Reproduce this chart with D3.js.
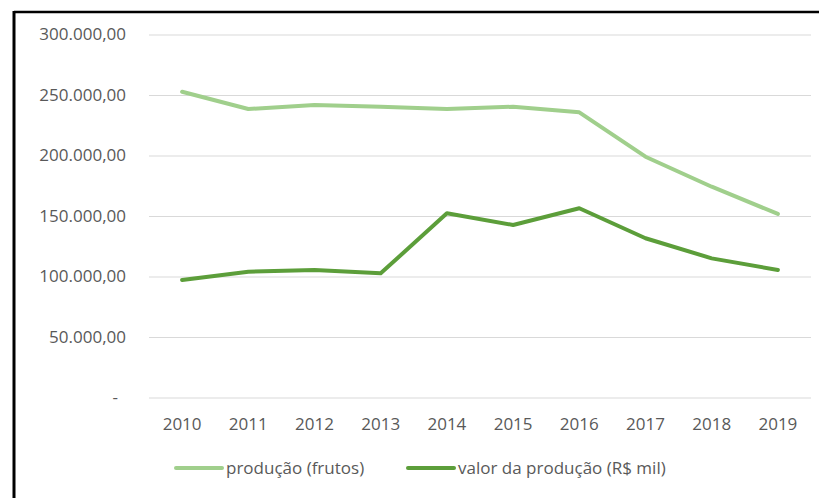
<!DOCTYPE html>
<html>
<head>
<meta charset="utf-8">
<script src="https://cdn.jsdelivr.net/npm/d3@7"></script>
<style>
 body{margin:0;background:#fff;}
 text{font-family:"Open Sans","DejaVu Sans",sans-serif;}
</style>
</head>
<body>
<div id="chart"></div>
<script>
var years = ['2010','2011','2012','2013','2014','2015','2016','2017','2018','2019'];
var producao = [252700, 238400, 241700, 240300, 238400, 240300, 235700, 199000, 174200, 151700];
var valor = [97100, 104000, 105400, 102600, 152200, 142600, 156400, 131600, 115000, 105400];
var yTicks = [0, 50000, 100000, 150000, 200000, 250000, 300000];
var seriesNames = ['produção (frutos)', 'valor da produção (R$ mil)'];
var colors = ['#a0cf8c', '#5c9e3a'];

var width = 819, height = 498;
var plotLeft = 149, plotRight = 811, plotTop = 34.5, plotBottom = 397.5;

var svg = d3.select('#chart').append('svg')
  .attr('width', width).attr('height', height);

// frame (only left and top edges visible)
svg.append('line').attr('x1', 14).attr('y1', 12).attr('x2', 819).attr('y2', 12)
  .attr('stroke', '#000').attr('stroke-width', 2.5);
svg.append('line').attr('x1', 14).attr('y1', 11).attr('x2', 14).attr('y2', 498)
  .attr('stroke', '#000').attr('stroke-width', 3);

var x = d3.scaleBand().domain(years).range([plotLeft, plotRight]);
var y = d3.scaleLinear().domain([0, 300000]).range([plotBottom, plotTop]);

function fmt(v){
  if(v === 0) return '-';
  return d3.format(',.2f')(v).replace(/,/g, 'X').replace('.', ',').replace(/X/g, '.');
}

var yAxis = svg.append('g').attr('transform', 'translate(' + plotLeft + ',0)')
  .call(d3.axisLeft(y).tickValues(yTicks).tickSize(-(plotRight - plotLeft)).tickPadding(22).tickFormat(fmt));
yAxis.select('.domain').remove();
yAxis.selectAll('line').attr('stroke', '#d9d9d9').attr('stroke-width', 1);
yAxis.selectAll('text').attr('fill', '#595959').style('font-size', '17px')
  .attr('x', -23);
yAxis.selectAll('.tick').filter(function(d){ return d === 0; }).select('text').attr('x', -31);

var xAxis = svg.append('g').attr('transform', 'translate(0,' + plotBottom + ')')
  .call(d3.axisBottom(x).tickSize(0).tickPadding(20));
xAxis.select('.domain').remove();
xAxis.selectAll('text').attr('fill', '#595959').style('font-size', '17px');

var line = d3.line()
  .x(function(d, i){ return x(years[i]) + x.bandwidth() / 2; })
  .y(function(d){ return y(d); });

[producao, valor].forEach(function(s, i){
  svg.append('path').datum(s)
    .attr('d', line)
    .attr('fill', 'none')
    .attr('stroke', colors[i])
    .attr('stroke-width', 4)
    .attr('stroke-linejoin', 'round')
    .attr('stroke-linecap', 'round');
});

// legend
var legendX = [176, 408];
seriesNames.forEach(function(n, i){
  var g = svg.append('g').attr('transform', 'translate(' + legendX[i] + ',468)');
  g.append('line').attr('x1', 0).attr('x2', 46).attr('y1', 0).attr('y2', 0)
    .attr('stroke', colors[i]).attr('stroke-width', 4).attr('stroke-linecap', 'round');
  g.append('text').attr('x', 50).attr('y', 6).attr('fill', '#595959')
    .style('font-size', '17px').text(n);
});
</script>
</body>
</html>
